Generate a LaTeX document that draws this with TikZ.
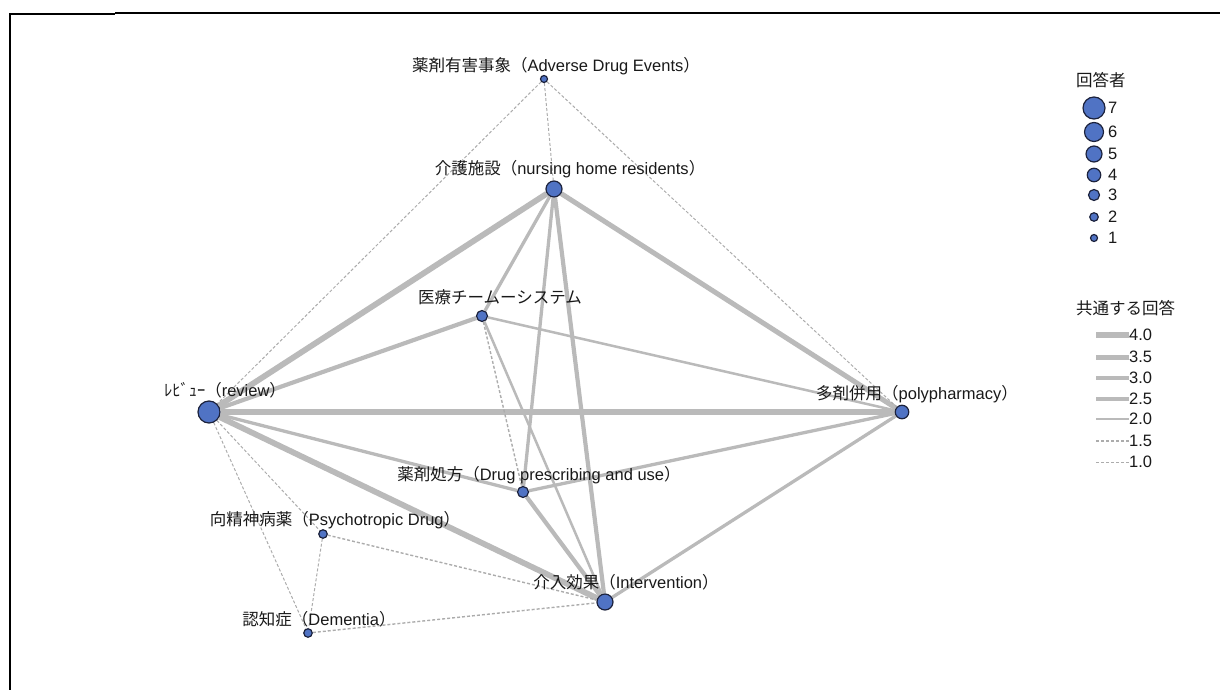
\documentclass[tikz,border=0pt]{standalone}
\usepackage{fontspec}
\setmainfont{Liberation Sans}
\newfontfamily\jpfont{Noto Sans CJK JP}
\newcommand{\jp}[1]{{\jpfont #1}}
\usetikzlibrary{backgrounds}

\definecolor{nodeblue}{RGB}{80,115,196}
\definecolor{nodeline}{RGB}{28,34,60}
\definecolor{edgegray}{RGB}{186,186,186}
\definecolor{dashgray}{RGB}{172,172,172}

\tikzset{
  vtx/.style={circle, fill=nodeblue, draw=nodeline, line width=1.2pt, inner sep=0pt},
  sz1/.style={vtx, minimum size=7pt},
  sz2/.style={vtx, minimum size=8.5pt},
  sz3/.style={vtx, minimum size=11pt},
  sz4/.style={vtx, minimum size=13.5pt},
  sz5/.style={vtx, minimum size=16pt},
  sz6/.style={vtx, minimum size=19pt},
  sz7/.style={vtx, minimum size=22pt},
  lbl/.style={inner sep=0pt, text height=12pt, text depth=3pt, font=\fontsize{16.5}{18}\selectfont, text=black!90},
  leglbl/.style={lbl, anchor=west},
  w40/.style={draw=edgegray, line width=5.8pt},
  w35/.style={draw=edgegray, line width=5pt},
  w30/.style={draw=edgegray, line width=4.2pt},
  w25/.style={draw=edgegray, line width=3.3pt},
  w20/.style={draw=edgegray, line width=2.5pt},
  w15/.style={draw=dashgray, line width=1.4pt, dash pattern=on 3pt off 2pt},
  w10/.style={draw=dashgray, line width=1pt, dash pattern=on 3pt off 2pt},
}

\begin{document}
\begin{tikzpicture}[x=1pt, y=-1pt]
\useasboundingbox (0,0) rectangle (1220,690);

% frame
\draw[line width=2pt] (10,690) -- (10,14.5) -- (115,14.5);
\draw[line width=2pt] (115,13.5) -- (1220,13.5);

% network vertices
\node[sz1] (ade)   at (544,79)  {};
\node[sz5] (nurse) at (554,189) {};
\node[sz3] (team)  at (482,316) {};
\node[sz7] (rev)   at (209,412) {};
\node[sz4] (poly)  at (902,412) {};
\node[sz3] (drug)  at (523,492) {};
\node[sz2] (psy)   at (323,534) {};
\node[sz5] (intv)  at (605,602) {};
\node[sz2] (dem)   at (308,633) {};

% vertex labels
\node[lbl] (tade)   at (556,67)  {\jp{薬剤有害事象（}Adverse Drug Events\jp{）}};
\node[lbl] (tnurse) at (570,170) {\jp{介護施設（}nursing home residents\jp{）}};
\node[lbl] (tteam)  at (500,299) {\jp{医療チームーシステム}};
\node[lbl] (trev)   at (225,392) {\jp{ﾚﾋﾞｭｰ（}review\jp{）}};
\node[lbl] (tpoly)  at (917,395) {\jp{多剤併用（}polypharmacy\jp{）}};
\node[lbl] (tdrug)  at (539,476) {\jp{薬剤処方（}Drug prescribing and use\jp{）}};
\node[lbl] (tpsy)   at (335,521) {\jp{向精神病薬（}Psychotropic Drug\jp{）}};
\node[lbl] (tintv)  at (626,584) {\jp{介入効果（}Intervention\jp{）}};
\node[lbl] (tdem)   at (319,621) {\jp{認知症（}Dementia\jp{）}};

% connections, behind the vertices
\begin{scope}[on background layer]
  \draw[w40] (rev) -- (nurse);
  \draw[w40] (rev) -- (poly);
  \draw[w40] (rev) -- (intv);
  \draw[w35] (nurse) -- (poly);
  \draw[w30] (nurse) -- (intv);
  \draw[w30] (rev) -- (team);
  \draw[w30] (drug) -- (intv);
  \draw[w25] (rev) -- (drug);
  \draw[w25] (nurse) -- (team);
  \draw[w25] (nurse) -- (drug);
  \draw[w25] (drug) -- (poly);
  \draw[w25] (poly) -- (intv);
  \draw[w20] (team) -- (poly);
  \draw[w20] (team) -- (intv);
  \draw[w15] (team) -- (drug);
  \draw[w10] (ade) -- (rev);
  \draw[w10] (ade) -- (nurse);
  \draw[w10] (ade) -- (poly);
  \draw[w10] (rev) -- (psy);
  \draw[w10] (rev) -- (dem);
  \draw[w10] (psy) -- (dem);
  \draw[w15] (psy) -- (intv);
  \draw[w15] (dem) -- (intv);
\end{scope}

% legend: respondents
\node[lbl, anchor=west] (lgt1) at (1076,82) {\jp{回答者}};
\foreach \k/\y in {7/108,6/132,5/154,4/175,3/195,2/217,1/238}{
  \node[sz\k] (lg\k) at (1094,\y) {};
  \node[leglbl] (lgn\k) at (1108,\y+1) {\k};
}

% legend: shared answers
\node[lbl, anchor=west] (lgt2) at (1076,310) {\jp{共通する回答}};
\foreach \s/\v/\y in {w40/4.0/335,w35/3.5/357,w30/3.0/378,w25/2.5/399,w20/2.0/419,w15/1.5/441,w10/1.0/462}{
  \coordinate (ls-\s) at (1096,\y);
  \node[leglbl] (lv-\s) at (1129,\y+1) {\v};
  \draw[\s] (ls-\s) -- (lv-\s.west |- ls-\s);
}
\end{tikzpicture}
\end{document}
